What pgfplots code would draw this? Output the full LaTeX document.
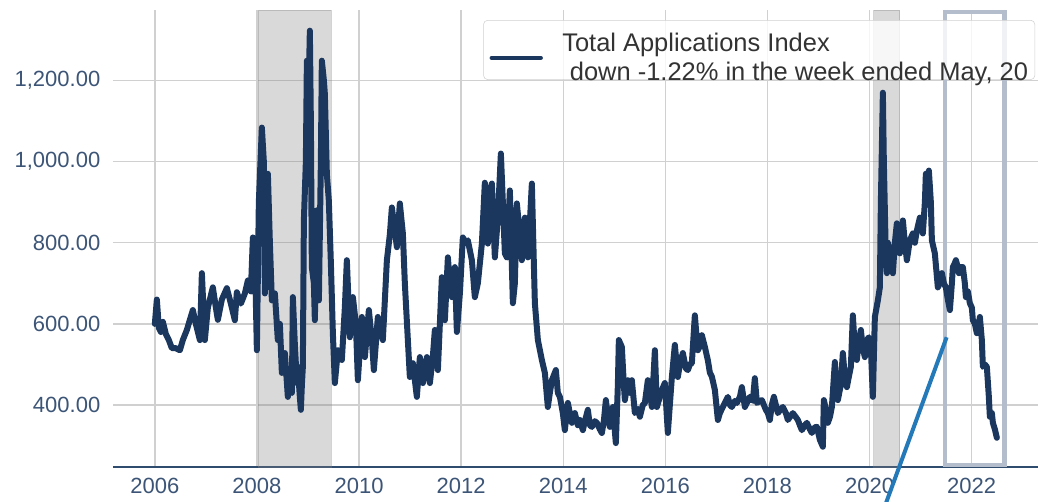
\documentclass[border=0pt]{standalone}
\usepackage{fontspec}
\setmainfont{Liberation Sans}
\usepackage{pgfplots}
\pgfplotsset{compat=1.18}
\definecolor{navy}{HTML}{1B375E}
\definecolor{ticktext}{HTML}{3C5577}
\definecolor{axisline}{HTML}{2F4B6E}
\definecolor{gridc}{HTML}{D0D0D0}
\definecolor{rectc}{HTML}{B3BDCC}
\definecolor{arrowc}{HTML}{2479B8}
\begin{document}
\begin{tikzpicture}
\begin{axis}[
  name=ax,
  scale only axis,
  width=693.75pt, height=342.75pt,
  xmin=2005.18, xmax=2023.3,
  ymin=247, ymax=1374,
  clip=false,
  axis x line*=bottom, axis y line*=left,
  y axis line style={draw=none},
  x axis line style={draw=axisline, line width=1.1pt, -},
  major tick length=0pt,
  xtick={2006,2008,...,2022},
  xticklabels={2006,2008,2010,2012,2014,2016,2018,2020,2022},
  ytick={400,600,800,1000,1200},
  yticklabels={400.00,600.00,800.00,{1,000.00},{1,200.00}},
  tick label style={font=\fontsize{16.5}{19}\selectfont, text=ticktext},
  yticklabel style={xshift=-6pt},
  xticklabel style={yshift=-5pt},
  grid=major,
  grid style={draw=gridc, line width=1.1pt},
  legend cell align=left,
  legend style={at={(0.9968,0.978)}, anchor=north east,
    font=\fontsize{19.1}{21.75}\selectfont, text=black!80,
    fill=white, fill opacity=0.8, text opacity=1, draw=gridc, rounded corners=3pt,
    inner xsep=3pt, inner ysep=6pt},
  legend image code/.code={\path[draw=none, fill=none] (0pt,-6pt) -- (54pt,-6pt);
    \draw[navy, line width=3pt, line cap=round] (3pt,-6pt) -- (40pt,-6pt);},
]
% recession bands
\addplot[forget plot, fill=gray, fill opacity=0.3, draw=gray, draw opacity=0.35, line width=0.6pt]
  coordinates {(2008.02,247) (2008.02,1374) (2009.45,1374) (2009.45,247)} -- cycle;
\addplot[forget plot, fill=gray, fill opacity=0.3, draw=gray, draw opacity=0.35, line width=0.6pt]
  coordinates {(2020.08,247) (2020.08,1374) (2020.59,1374) (2020.59,247)} -- cycle;
% highlight rectangle
\addplot[forget plot, draw=rectc, line width=3.5pt]
  coordinates {(2021.48,252) (2021.48,1369) (2022.64,1369) (2022.64,252)} -- cycle;
% data
\addplot[navy, line width=4.5pt, line join=round, line cap=round] coordinates {
(2006.000,600) (2006.039,660) (2006.078,590) (2006.118,580) (2006.157,605) (2006.215,575)
(2006.274,560) (2006.333,540) (2006.411,540) (2006.490,535) (2006.548,560) (2006.627,585)
(2006.686,610) (2006.744,634) (2006.803,600) (2006.882,560) (2006.921,725) (2006.979,560)
(2007.038,640) (2007.136,690) (2007.195,640) (2007.234,610) (2007.312,660) (2007.410,688)
(2007.489,650) (2007.567,609) (2007.606,678) (2007.685,650) (2007.763,675) (2007.822,707)
(2007.881,680) (2007.920,813) (2007.959,780) (2007.998,535) (2008.037,900) (2008.096,1084)
(2008.135,1000) (2008.155,675) (2008.194,800) (2008.214,970) (2008.253,800) (2008.292,658)
(2008.351,675) (2008.409,560) (2008.449,600) (2008.488,479) (2008.547,528) (2008.605,420)
(2008.645,450) (2008.684,430) (2008.703,666) (2008.742,550) (2008.782,454) (2008.801,494)
(2008.840,420) (2008.860,388) (2008.880,450) (2008.899,494) (2008.919,855) (2008.958,1000)
(2008.978,1249) (2009.017,1200) (2009.036,1323) (2009.056,1100) (2009.075,740) (2009.115,700)
(2009.134,609) (2009.173,880) (2009.213,658) (2009.252,1000) (2009.271,1249) (2009.311,1200)
(2009.330,1167) (2009.369,970) (2009.408,904) (2009.448,750) (2009.487,577) (2009.526,454)
(2009.585,535) (2009.663,511) (2009.722,641) (2009.761,757) (2009.820,567) (2009.879,666)
(2009.938,600) (2009.977,461) (2010.055,617) (2010.114,518) (2010.192,634) (2010.251,560)
(2010.290,486) (2010.368,617) (2010.466,560) (2010.545,757) (2010.603,820) (2010.643,887)
(2010.701,830) (2010.741,789) (2010.799,897) (2010.858,823) (2010.897,700) (2010.956,560)
(2010.995,469) (2011.054,503) (2011.132,420) (2011.191,518) (2011.250,454) (2011.328,518)
(2011.387,454) (2011.446,520) (2011.485,585) (2011.544,486) (2011.622,715) (2011.681,609)
(2011.740,764) (2011.779,700) (2011.818,666) (2011.877,740) (2011.916,580) (2011.975,675)
(2012.033,813) (2012.092,800) (2012.131,806) (2012.210,757) (2012.268,666) (2012.327,700)
(2012.406,798) (2012.464,948) (2012.523,798) (2012.562,930) (2012.602,946) (2012.660,764)
(2012.719,862) (2012.778,1020) (2012.817,900) (2012.856,774) (2012.895,764) (2012.954,929)
(2013.013,651) (2013.052,700) (2013.091,897) (2013.150,820) (2013.189,757) (2013.248,862)
(2013.307,764) (2013.346,850) (2013.385,946) (2013.424,750) (2013.444,651) (2013.503,560)
(2013.581,511) (2013.640,479) (2013.698,395) (2013.738,430) (2013.777,461) (2013.855,486)
(2013.894,430) (2013.934,420) (2013.992,380) (2014.031,338) (2014.090,405) (2014.129,380)
(2014.169,356) (2014.227,380) (2014.286,350) (2014.325,363) (2014.384,338) (2014.423,360)
(2014.482,388) (2014.521,350) (2014.560,346) (2014.619,360) (2014.658,356) (2014.717,340)
(2014.756,331) (2014.795,360) (2014.835,412) (2014.874,370) (2014.913,346) (2014.972,395)
(2015.030,306) (2015.070,450) (2015.089,560) (2015.148,543) (2015.187,450) (2015.207,412)
(2015.266,461) (2015.305,430) (2015.344,461) (2015.403,380) (2015.461,390) (2015.501,371)
(2015.559,400) (2015.599,405) (2015.657,461) (2015.697,430) (2015.736,395) (2015.795,535)
(2015.834,395) (2015.892,420) (2015.932,437) (2015.990,454) (2016.049,331) (2016.088,400)
(2016.128,469) (2016.186,548) (2016.245,469) (2016.284,500) (2016.343,528) (2016.402,490)
(2016.441,486) (2016.480,500) (2016.519,503) (2016.578,621) (2016.617,560) (2016.637,535)
(2016.676,545) (2016.715,572) (2016.774,543) (2016.833,510) (2016.872,480) (2016.911,470)
(2016.970,437) (2017.029,363) (2017.068,380) (2017.127,395) (2017.185,410) (2017.225,420)
(2017.264,400) (2017.303,395) (2017.362,410) (2017.401,405) (2017.460,420) (2017.499,444)
(2017.558,395) (2017.617,410) (2017.656,420) (2017.714,410) (2017.753,466) (2017.793,405)
(2017.851,410) (2017.891,412) (2017.930,400) (2017.969,388) (2018.008,380) (2018.047,363)
(2018.086,400) (2018.126,420) (2018.165,400) (2018.204,380) (2018.263,390) (2018.302,395)
(2018.361,380) (2018.400,363) (2018.439,370) (2018.498,380) (2018.557,370) (2018.596,363)
(2018.635,350) (2018.674,338) (2018.733,350) (2018.772,356) (2018.831,340) (2018.870,331)
(2018.929,345) (2018.968,346) (2019.027,314) (2019.085,297) (2019.105,412) (2019.144,390)
(2019.183,356) (2019.223,370) (2019.262,395) (2019.321,506) (2019.360,430) (2019.379,412)
(2019.438,450) (2019.477,528) (2019.516,470) (2019.556,444) (2019.595,470) (2019.634,494)
(2019.673,621) (2019.712,540) (2019.751,511) (2019.791,560) (2019.830,585) (2019.869,540)
(2019.908,518) (2019.947,560) (2019.987,567) (2020.026,540) (2020.065,420) (2020.104,617)
(2020.163,658) (2020.202,690) (2020.222,900) (2020.261,1170) (2020.280,1000) (2020.300,880)
(2020.320,760) (2020.339,725) (2020.359,800) (2020.398,774) (2020.418,740) (2020.457,725)
(2020.496,800) (2020.535,848) (2020.574,800) (2020.594,774) (2020.653,855) (2020.692,800)
(2020.731,757) (2020.790,806) (2020.848,823) (2020.888,800) (2020.927,830) (2020.986,862)
(2021.025,840) (2021.044,823) (2021.084,900) (2021.103,970) (2021.142,940) (2021.162,978)
(2021.201,900) (2021.221,806) (2021.279,774) (2021.338,690) (2021.377,700) (2021.417,725)
(2021.456,700) (2021.495,690) (2021.534,660) (2021.574,634) (2021.613,700) (2021.632,740)
(2021.671,750) (2021.691,757) (2021.730,740) (2021.750,725) (2021.789,740) (2021.828,740)
(2021.867,700) (2021.887,666) (2021.926,680) (2021.965,651) (2022.004,640) (2022.024,609)
(2022.063,600) (2022.102,577) (2022.141,600) (2022.161,617) (2022.200,560) (2022.220,494)
(2022.259,500) (2022.298,494) (2022.337,420) (2022.357,371) (2022.396,380) (2022.416,356)
(2022.455,340) (2022.494,319)
};
\addlegendentry{\begin{tabular}[c]{@{}l@{}}Total Applications Index\\\hspace{0.3em}down -1.22\% in the week ended May, 20\end{tabular}}
% annotation arrow
\addplot[forget plot, draw=arrowc, line width=3pt] coordinates {(2020.27,140) (2021.51,567)};
\end{axis}
\pgfresetboundingbox
\path ([xshift=-84.75pt,yshift=-25.5pt]ax.south west) rectangle ([yshift=7.5pt]ax.north east);
\end{tikzpicture}
\end{document}
